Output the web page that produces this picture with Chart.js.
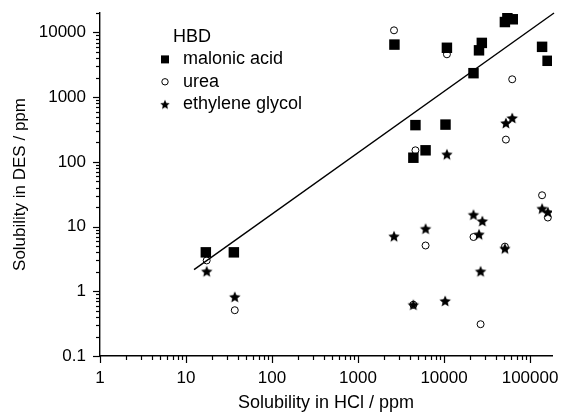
<!DOCTYPE html>
<html>
<head>
<meta charset="utf-8">
<script src="https://cdn.jsdelivr.net/npm/chart.js@4.4.1/dist/chart.umd.min.js"></script>
<style>
  html, body { margin: 0; padding: 0; background: #fff; }
  #wrap { width: 563px; height: 414px; }
</style>
</head>
<body>
<div id="wrap"><canvas id="c"></canvas></div>
<script>
// HBD series (ppm)
const malonicX = [17, 36, 2650, 4650, 4400, 6100, 10400, 10800, 22000, 25500, 27500, 51000, 54500, 63000, 138000, 160000];
const malonicY = [4.0, 4.0, 6500, 370, 116, 151, 377, 5800, 2350, 5300, 6900, 14500, 17000, 16000, 6000, 3650];

const ureaX = [17.4, 36.9, 2620, 4650, 6100, 10800, 22000, 26600, 51000, 52400, 62000, 4400, 138000, 161000];
const ureaY = [3.0, 0.51, 10800, 151, 5.1, 4600, 6.9, 0.31, 4.9, 221, 1890, 0.62, 30.5, 13.8];

const glycolX = [17.4, 36.9, 2620, 4400, 6100, 10300, 10800, 22000, 25500, 26600, 27900, 51000, 52400, 62000, 138000, 161000];
const glycolY = [2.04, 0.82, 7.1, 0.62, 9.3, 0.71, 131, 15.3, 7.6, 2.04, 12.2, 4.6, 399, 477, 19, 16.8];

// straight fit line (end points)
const fitX = [12.4, 190000];
const fitY = [2.16, 20000];

const xRange = [1, 180000];
const yRange = [0.1, 20000];

const FONT = "'Liberation Sans', Arial, sans-serif";
Chart.defaults.font.family = FONT;
Chart.defaults.color = '#000';

const pts = (xs, ys) => xs.map((x, i) => ({x: x, y: ys[i]}));

// filled five point star as a point image
function starImage(r) {
  const c = document.createElement('canvas');
  const s = Math.ceil(r * 2 + 2);
  c.width = s; c.height = s;
  const g = c.getContext('2d');
  g.fillStyle = '#000';
  g.beginPath();
  for (let i = 0; i < 10; i++) {
    const rr = i % 2 ? r * 0.46 : r;
    const a = -Math.PI / 2 + i * Math.PI / 5;
    g.lineTo(s / 2 + rr * Math.cos(a), s / 2 + 0.6 + rr * Math.sin(a));
  }
  g.closePath();
  g.fill();
  return c;
}
const star = starImage(6);
const starSmall = starImage(5);

// 1..9 x 10^n ticks, majors on the decades
function logTicks(min, max) {
  const out = [];
  for (let e = Math.floor(Math.log10(min)); e <= Math.ceil(Math.log10(max)); e++) {
    for (let s = 1; s <= 9; s++) {
      const v = parseFloat((s * Math.pow(10, e)).toPrecision(6));
      if (v >= min * 0.999 && v <= max * 1.001) out.push({value: v, major: s === 1});
    }
  }
  return out;
}
const decadeLabel = v => {
  const l = Math.log10(v);
  return Math.abs(l - Math.round(l)) < 1e-6 ? String(v) : '';
};

// outward tick marks: long on decades, short in between
const tickMarks = {
  id: 'tickMarks',
  afterDraw(chart) {
    const {ctx, chartArea} = chart;
    const sx = chart.scales.x, sy = chart.scales.y;
    ctx.save();
    ctx.strokeStyle = '#000';
    ctx.lineWidth = 1.2;
    sx.ticks.forEach(t => {
      const p = Math.round(sx.getPixelForValue(t.value)) + 0.5;
      ctx.beginPath();
      ctx.moveTo(p, chartArea.bottom);
      ctx.lineTo(p, chartArea.bottom + (t.major ? 7 : 4));
      ctx.stroke();
    });
    sy.ticks.forEach(t => {
      const p = Math.round(sy.getPixelForValue(t.value)) + 0.5;
      ctx.beginPath();
      ctx.moveTo(chartArea.left, p);
      ctx.lineTo(chartArea.left - (t.major ? 7 : 4), p);
      ctx.stroke();
    });
    ctx.restore();
  }
};

// legend box inside the plot, top left
const hbdLegend = {
  id: 'hbdLegend',
  afterDraw(chart) {
    const ctx = chart.ctx;
    const x0 = 165, y0 = 37, row = 22.4;
    ctx.save();
    ctx.fillStyle = '#000';
    ctx.strokeStyle = '#000';
    ctx.font = '18px ' + FONT;
    ctx.textBaseline = 'middle';
    ctx.fillText('HBD', x0 + 8, y0);
    const items = chart.data.datasets.filter(d => d.legendName);
    items.forEach((d, i) => {
      const y = y0 + row * (i + 1);
      if (d.legendName === 'malonic acid') {
        ctx.fillRect(x0 - 4, y - 4, 8, 8);
      } else if (d.legendName === 'urea') {
        ctx.lineWidth = 1;
        ctx.beginPath();
        ctx.arc(x0, y, 3.2, 0, Math.PI * 2);
        ctx.stroke();
      } else {
        ctx.drawImage(starSmall, x0 - starSmall.width / 2, y - starSmall.height / 2);
      }
      ctx.fillText(d.legendName, x0 + 18, y);
    });
    ctx.restore();
  }
};

new Chart(document.getElementById('c'), {
  type: 'scatter',
  data: {
    datasets: [
      {legendName: 'malonic acid', data: pts(malonicX, malonicY), pointStyle: 'rect', pointRadius: 7.4, pointHoverRadius: 7.4,
       backgroundColor: '#000', borderColor: '#000', borderWidth: 0},
      {legendName: 'urea', data: pts(ureaX, ureaY), pointStyle: 'circle', pointRadius: 3.5, pointHoverRadius: 3.5,
       backgroundColor: 'rgba(255,255,255,0)', borderColor: '#000', borderWidth: 1},
      {legendName: 'ethylene glycol', data: pts(glycolX, glycolY), pointStyle: star, pointRadius: 5,
       backgroundColor: '#000', borderColor: '#000'},
      {data: pts(fitX, fitY), showLine: true, pointRadius: 0, borderColor: '#000', borderWidth: 1.4, clip: false}
    ]
  },
  options: {
    responsive: true,
    maintainAspectRatio: false,
    animation: false,
    layout: {padding: {left: 0, right: 11, top: 13, bottom: 0}},
    plugins: {legend: {display: false}, tooltip: {enabled: false}},
    scales: {
      x: {
        type: 'logarithmic', min: xRange[0], max: xRange[1],
        afterBuildTicks: s => { s.ticks = logTicks(xRange[0], xRange[1]); },
        afterFit: s => { s.height = 58; s.paddingLeft = 0; s.paddingRight = 0; },
        grid: {drawOnChartArea: false, tickLength: 7, color: 'rgba(0,0,0,0)'},
        border: {display: true, color: '#000', width: 1.4},
        ticks: {autoSkip: false, maxRotation: 0, padding: 5, font: {size: 17}, callback: decadeLabel},
        title: {display: true, text: 'Solubility in HCl / ppm', font: {size: 18}, padding: {top: 9, bottom: 0}}
      },
      y: {
        type: 'logarithmic', min: yRange[0], max: yRange[1],
        afterBuildTicks: s => { s.ticks = logTicks(yRange[0], yRange[1]); },
        afterFit: s => { s.width = 100; s.paddingTop = 0; s.paddingBottom = 0; },
        grid: {drawOnChartArea: false, tickLength: 7, color: 'rgba(0,0,0,0)'},
        border: {display: true, color: '#000', width: 1.4},
        ticks: {autoSkip: false, padding: 7, font: {size: 17}, callback: decadeLabel},
        title: {display: true, text: 'Solubility in DES / ppm', font: {size: 17}, padding: {top: 10, bottom: 0}}
      }
    }
  },
  plugins: [tickMarks, hbdLegend]
});
</script>
</body>
</html>
